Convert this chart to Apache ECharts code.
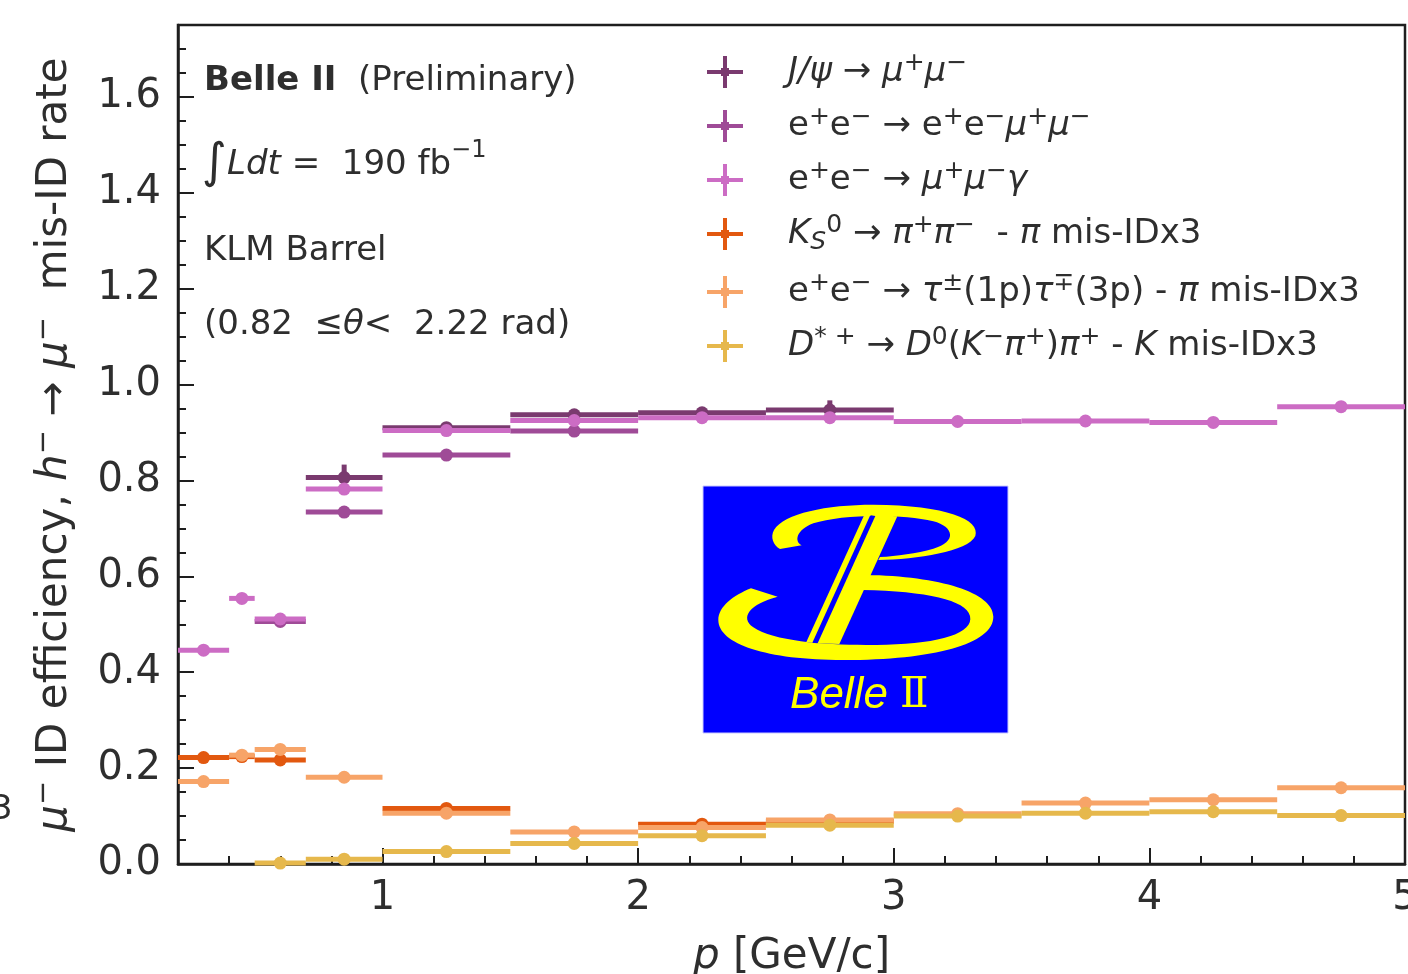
<!DOCTYPE html>
<html>
<head>
<meta charset="utf-8">
<script src="https://cdn.jsdelivr.net/npm/echarts@6/dist/echarts.min.js"></script>
<style>
  html, body { margin: 0; padding: 0; background: #ffffff; }
  #chart { width: 1408px; height: 974px; }
</style>
</head>
<body>
<div id="chart"></div>
<script>
// momentum bin edges [GeV/c]
const binEdges = [0.2, 0.4, 0.5, 0.7, 1.0, 1.5, 2.0, 2.5, 3.0, 3.5, 4.0, 4.5, 5.0];

// muon ID efficiency per bin (null = no entry)
const jpsiVals      = [null, null, null, 0.806, 0.910, 0.937, 0.941, 0.947, null, null, null, null];
const jpsiErrs      = [0, 0, 0, 0.025, 0.008, 0.010, 0.010, 0.018, 0, 0, 0, 0];
const eemumuVals    = [null, null, 0.506, 0.734, 0.853, 0.903, null, null, null, null, null, null];
const eemumuErrs    = [0, 0, 0.006, 0.006, 0.005, 0.005, 0, 0, 0, 0, 0, 0];
const mumugVals     = [0.446, 0.554, 0.511, 0.782, 0.904, 0.925, 0.931, 0.931, 0.923, 0.924, 0.921, 0.954];
const mumugErrs     = [0.004, 0.006, 0.006, 0.006, 0.004, 0.004, 0.004, 0.004, 0.004, 0.004, 0.004, 0.004];

// hadron mis-ID rates (x3) per bin
const ksVals        = [0.222, 0.224, 0.217, null, 0.116, null, 0.083, 0.089, null, null, null, null];
const ksErrs        = [0.004, 0.004, 0.006, 0, 0.004, 0, 0.004, 0.004, 0, 0, 0, 0];
const tauVals       = [0.172, 0.227, 0.239, 0.181, 0.106, 0.067, 0.076, 0.092, 0.105, 0.127, 0.134, 0.159];
const tauErrs       = [0.004, 0.006, 0.006, 0.004, 0.004, 0.004, 0.004, 0.004, 0.004, 0.004, 0.004, 0.006];
const dstarVals     = [null, null, 0.002, 0.010, 0.026, 0.043, 0.059, 0.081, 0.100, 0.106, 0.109, 0.101];
const dstarErrs     = [0, 0, 0.002, 0.003, 0.003, 0.003, 0.003, 0.003, 0.003, 0.003, 0.003, 0.004];

// axis ticks
const xMajorTicks = [1, 2, 3, 4, 5];
const yMajorTicks = [0.0, 0.2, 0.4, 0.6, 0.8, 1.0, 1.2, 1.4, 1.6];

const seriesNames = ['jpsi', 'eemumu', 'mumug', 'ks', 'tau', 'dstar'];
const seriesColors = {
  jpsi: '#7a3a6f', eemumu: '#9f4b97', mumug: '#cc6cc4',
  ks: '#e2580f', tau: '#f7a468', dstar: '#e6b84c'
};

const legendText = {
  jpsi:   '{sp|}{i|J/ψ}{t| → }{i|μ}{s|+}{i|μ}{s|−}',
  eemumu: '{sp|}{t|e}{s|+}{t|e}{s|−}{t| → e}{s|+}{t|e}{s|−}{i|μ}{s|+}{i|μ}{s|−}',
  mumug:  '{sp|}{t|e}{s|+}{t|e}{s|−}{t| → }{i|μ}{s|+}{i|μ}{s|−}{i|γ}',
  ks:     '{sp|}{i|K}{sub|S}{s|0}{t| → }{i|π}{s|+}{i|π}{s|−}{t|  - }{i|π}{t| mis-IDx3}',
  tau:    '{sp|}{t|e}{s|+}{t|e}{s|−}{t| → }{i|τ}{s|±}{t|(1p)}{i|τ}{s|∓}{t|(3p) - }{i|π}{t| mis-IDx3}',
  dstar:  '{sp|}{i|D}{s|* +}{t| → }{i|D}{s|0}{t|(}{i|K}{s|−}{i|π}{s|+}{t|)}{i|π}{s|+}{t| - }{i|K}{t| mis-IDx3}'
};

const FONT = 'DejaVu Sans';
const TEXT = '#2e2e2e';

function binSeries(name, vals, errs) {
  const color = seriesColors[name];
  const data = [];
  vals.forEach((v, i) => {
    if (v !== null) data.push([binEdges[i], binEdges[i + 1], v, errs[i]]);
  });
  return {
    type: 'custom',
    name: name,
    data: data,
    itemStyle: { color: color },
    encode: { x: [0, 1], y: 2 },
    renderItem: function (params, api) {
      const lo = api.value(0), hi = api.value(1), v = api.value(2), e = api.value(3);
      const mid = (lo + hi) / 2;
      const a = api.coord([lo, v]), b = api.coord([hi, v]), c = api.coord([mid, v]);
      const up = api.coord([mid, v + e]), dn = api.coord([mid, v - e]);
      return {
        type: 'group',
        children: [
          { type: 'line', shape: { x1: a[0], y1: a[1], x2: b[0], y2: b[1] },
            style: { stroke: color, lineWidth: 5 } },
          { type: 'line', shape: { x1: up[0], y1: up[1] - 1, x2: dn[0], y2: dn[1] + 1 },
            style: { stroke: color, lineWidth: 5 } },
          { type: 'circle', shape: { cx: c[0], cy: c[1], r: 6.5 },
            style: { fill: color } }
        ]
      };
    }
  };
}

// collaboration logo, drawn in its own local units (1/3 px)
const logoSeries = {
  type: 'custom',
  name: 'logo',
  coordinateSystem: 'none',
  silent: true,
  z: 20,
  data: [[0]],
  renderItem: function () {
    return {
      type: 'group', x: 700, y: 480, scaleX: 1 / 3, scaleY: 1 / 3,
      children: [
        { type: 'rect', shape: { x: 9, y: 18, width: 915, height: 741 },
          style: { fill: '#0000ff', stroke: '#c8c8ff', lineWidth: 3 } },
        { type: 'path',
          shape: { pathData: 'M 240,207 L 305,196 C 282,185 288,150 340,130 C 420,104 600,100 700,124 C 762,140 772,186 700,206 C 650,220 590,228 540,231 L 535,240 C 650,238 805,215 826,168 C 842,118 740,76 520,74 C 380,74 252,100 222,150 C 210,172 220,196 240,207 Z' },
          style: { fill: '#ffff00' } },
        { type: 'path',
          shape: { pathData: 'M 153,325 L 233,350 C 150,372 118,412 160,442 C 230,490 420,498 560,494 C 720,490 822,460 810,408 C 798,360 680,334 488,330 L 497,285 C 720,288 880,338 880,410 C 880,492 700,540 430,540 C 200,540 55,492 55,420 C 55,380 100,346 153,325 Z' },
          style: { fill: '#ffff00' } },
        { type: 'path',
          shape: { pathData: 'M 512,106 L 526,108 L 352,490 L 337,488 Z' },
          style: { fill: '#0000ff' } },
        { type: 'path',
          shape: { pathData: 'M 527,106 L 592,109 L 418,492 L 353,490 Z' },
          style: { fill: '#ffff00' } },
        { type: 'path',
          shape: { pathData: 'M 493,104 L 511,105 L 337,488 L 319,486 Z' },
          style: { fill: '#ffff00' } },
        { type: 'text',
          style: { x: 478, y: 648, align: 'center', verticalAlign: 'middle',
                   text: '{b|Belle }{r|Ⅱ}',
                   rich: {
                     b: { fontSize: 132, fontStyle: 'italic', fontFamily: 'Liberation Sans', fill: '#ffff00' },
                     r: { fontSize: 126, fontFamily: 'DejaVu Serif', fill: '#ffff00' }
                   } } }
      ]
    };
  }
};

const plusIcon = 'path://M0,14 L36,14 L36,18 L0,18 Z M16,0 L20,0 L20,32 L16,32 Z M14,12 L22,12 L22,20 L14,20 Z';

const legendRich = {
  sp:  { width: 40 },
  t:   { fontSize: 34, fontFamily: FONT, color: TEXT, lineHeight: 42 },
  i:   { fontSize: 34, fontFamily: FONT, color: TEXT, fontStyle: 'italic', lineHeight: 42 },
  s:   { fontSize: 25, fontFamily: FONT, color: TEXT, lineHeight: 24, verticalAlign: 'top' },
  sub: { fontSize: 25, fontFamily: FONT, color: TEXT, fontStyle: 'italic', lineHeight: 24, verticalAlign: 'bottom' }
};

const axisNameRich = {
  t: { fontSize: 42, fontFamily: FONT, color: TEXT, lineHeight: 50 },
  i: { fontSize: 42, fontFamily: FONT, color: TEXT, fontStyle: 'italic', lineHeight: 50 },
  s: { fontSize: 29, fontFamily: FONT, color: TEXT, lineHeight: 28, verticalAlign: 'top' }
};

const chart = echarts.init(document.getElementById('chart'), null, { renderer: 'canvas' });

const option = {
  backgroundColor: '#ffffff',
  animation: false,
  grid: {
    left: 178, right: 3, top: 25, bottom: 110,
    outerBoundsMode: 'none', containLabel: false,
    show: true, borderColor: '#1e1e1e', borderWidth: 2.5, backgroundColor: 'transparent'
  },
  xAxis: [
    {
      type: 'value', min: 0.2, max: 5, position: 'bottom',
      axisLine: { show: true, onZero: false, lineStyle: { color: '#1e1e1e', width: 2.5 } },
      axisTick: { show: true, inside: true, length: 16, customValues: xMajorTicks,
                  lineStyle: { color: '#1e1e1e', width: 2 } },
      axisLabel: { show: true, customValues: xMajorTicks, fontSize: 40, fontFamily: FONT,
                   color: TEXT, margin: 15, hideOverlap: false,
                   formatter: v => String(Math.round(v)) },
      splitLine: { show: false },
      name: '{i|p}{t| [GeV/c]}', nameLocation: 'middle', nameGap: 68,
      nameTextStyle: { rich: axisNameRich }
    },
    {
      type: 'value', min: 0.2, max: 5, interval: 0.2, position: 'bottom',
      axisLine: { show: false },
      axisTick: { show: true, inside: true, length: 8, lineStyle: { color: '#1e1e1e', width: 2 } },
      axisLabel: { show: false },
      splitLine: { show: false }
    }
  ],
  yAxis: [
    {
      type: 'value', min: 0, max: 1.75, position: 'left',
      axisLine: { show: true, onZero: false, lineStyle: { color: '#1e1e1e', width: 2.5 } },
      axisTick: { show: true, inside: true, length: 16, customValues: yMajorTicks,
                  lineStyle: { color: '#1e1e1e', width: 2 } },
      axisLabel: { show: true, customValues: yMajorTicks, fontSize: 40, fontFamily: FONT,
                   color: TEXT, margin: 17, padding: [6, 0, 0, 0],
                   formatter: v => v.toFixed(1) },
      splitLine: { show: false },
      name: '{i|μ}{s|−}{t| ID efficiency, }{i|h}{s|−}{t| → }{i|μ}{s|−}{t|  mis-ID rate}',
      nameLocation: 'middle', nameGap: 98, nameRotate: 90,
      nameTextStyle: { rich: axisNameRich }
    },
    {
      type: 'value', min: 0, max: 1.75, interval: 0.05, position: 'left',
      axisLine: { show: false },
      axisTick: { show: true, inside: true, length: 8, lineStyle: { color: '#1e1e1e', width: 2 } },
      axisLabel: { show: false },
      splitLine: { show: false }
    }
  ],
  legend: {
    orient: 'vertical', left: 707, top: 51, padding: 0,
    itemWidth: 36, itemHeight: 32, itemGap: 16,
    data: seriesNames.map(n => ({ name: n, icon: plusIcon })),
    formatter: n => legendText[n],
    textStyle: { fontSize: 34, fontFamily: FONT, color: TEXT, rich: legendRich },
    selectedMode: false
  },
  series: [
    binSeries('jpsi', jpsiVals, jpsiErrs),
    binSeries('eemumu', eemumuVals, eemumuErrs),
    binSeries('mumug', mumugVals, mumugErrs),
    binSeries('ks', ksVals, ksErrs),
    binSeries('tau', tauVals, tauErrs),
    binSeries('dstar', dstarVals, dstarErrs),
    logoSeries
  ],
  graphic: [
    {
      type: 'text', z: 10,
      style: {
        x: 204, y: 81, verticalAlign: 'middle',
        text: '{b|Belle II}{t|  (Preliminary)}',
        rich: {
          b: { fontSize: 34, fontFamily: FONT, fontWeight: 'bold', fill: TEXT },
          t: { fontSize: 34, fontFamily: FONT, fill: TEXT }
        }
      }
    },
    {
      type: 'text', z: 10,
      style: {
        x: 202, y: 165, verticalAlign: 'middle',
        text: '{int|∫}{i|Ldt}{t| =  190 fb}{s|−1}',
        rich: {
          int: { fontSize: 48, fontFamily: FONT, fill: TEXT, lineHeight: 52 },
          i: { fontSize: 34, fontFamily: FONT, fontStyle: 'italic', fill: TEXT, lineHeight: 40 },
          t: { fontSize: 34, fontFamily: FONT, fill: TEXT, lineHeight: 40 },
          s: { fontSize: 24, fontFamily: FONT, fill: TEXT, lineHeight: 38, verticalAlign: 'top' }
        }
      }
    },
    {
      type: 'text', z: 10,
      style: { x: 204, y: 251, verticalAlign: 'middle', text: 'KLM Barrel',
               fontSize: 34, fontFamily: FONT, fill: TEXT }
    },
    {
      type: 'text', z: 10,
      style: {
        x: 204, y: 325, verticalAlign: 'middle',
        text: '{t|(0.82  ≤}{i|θ}{t|<  2.22 rad)}',
        rich: {
          t: { fontSize: 34, fontFamily: FONT, fill: TEXT },
          i: { fontSize: 34, fontFamily: FONT, fontStyle: 'italic', fill: TEXT }
        }
      }
    },
    {
      type: 'text', z: 10,
      style: { x: -9, y: 810, verticalAlign: 'middle', text: '3',
               fontSize: 34, fontFamily: FONT, fill: TEXT }
    }
  ]
};

chart.setOption(option);
</script>
</body>
</html>
